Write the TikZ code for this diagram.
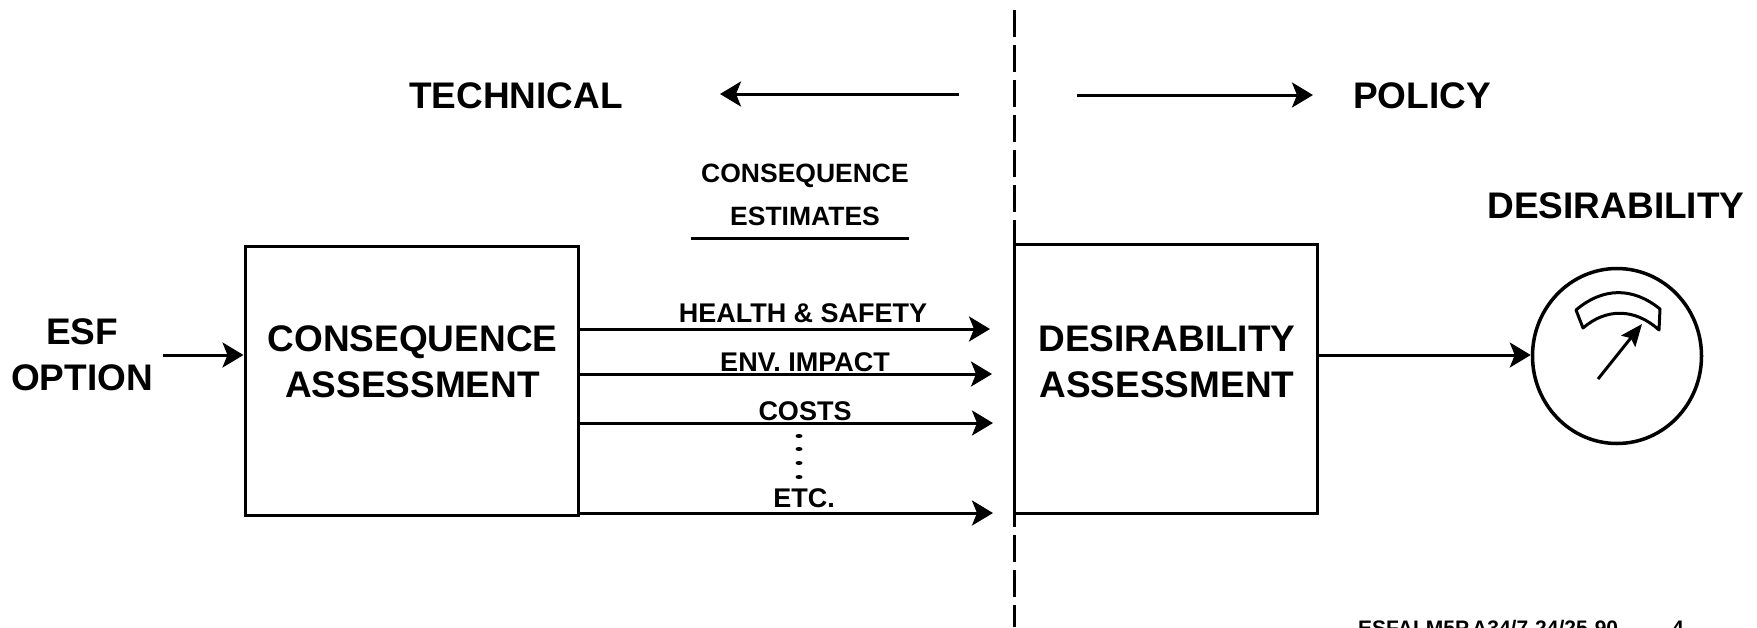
\documentclass[tikz,border=0pt]{standalone}
\usepackage{fontspec}
\setmainfont{Liberation Sans}
\usetikzlibrary{arrows.meta}
\usetikzlibrary{shapes.geometric}
\tikzset{my arrow/.style={-{Stealth[length=21pt, width=25pt, inset=5pt]}, line width=3pt, black}}
\tikzset{my line/.style={line width=3pt, black}}
\tikzstyle{process} = [rectangle, draw=black, line width=3pt, inner sep=0pt, text centered, align=center, font=\bigfont]
\tikzstyle{bigtext} = [inner sep=0pt, text centered, align=center, font=\bigfont]
\tikzstyle{smalltext} = [inner sep=0pt, text centered, align=center, font=\smallfont]
\newcommand{\bigfont}{\bfseries\fontsize{37}{45.5}\selectfont}
\newcommand{\smallfont}{\bfseries\fontsize{27}{45}\selectfont}

\begin{document}
\begin{tikzpicture}[x=1pt, y=-1pt]
  \useasboundingbox (0,0) rectangle (1757,627);
  \node [process, minimum width=333pt, minimum height=269pt] (conseq) at (411.5,380.5) {};
  \node [process, minimum width=303pt, minimum height=269pt] (desir) at (1165.5,378.5) {};
  \node [bigtext] (conseqtext) at (412.5,362) {CONSEQUENCE\\ASSESSMENT};
  \node [bigtext] (desirtext) at (1167,362) {DESIRABILITY\\ASSESSMENT};
  \node [bigtext] (option) at (82,355) {ESF\\OPTION};
  \node [bigtext] (technical) at (516,95.5) {TECHNICAL};
  \node [bigtext] (policy) at (1422,96) {POLICY};
  \node [bigtext] (desirability) at (1616,206) {DESIRABILITY};
  \node [smalltext, font=\bfseries\fontsize{26.5}{43}\selectfont] (estimates) at (805,195) {CONSEQUENCE\\ESTIMATES};
  \node [smalltext] (health) at (803,313) {HEALTH \& SAFETY};
  \node [smalltext] (env) at (805,362.5) {ENV. IMPACT};
  \node [smalltext] (costs) at (805,411) {COSTS};
  \node [smalltext] (etc) at (804,498) {ETC.};
  \node [anchor=base west, inner sep=0pt, font=\bfseries\fontsize{21}{24}\selectfont] (ref) at (1358,635) {ESFALM5P.A34/7-24/25-90};
  \node [anchor=base west, inner sep=0pt, font=\bfseries\fontsize{21}{24}\selectfont] (page) at (1672,635) {4};
  \node [ellipse, draw=black, line width=3.5pt, minimum width=169pt, minimum height=175pt, inner sep=0pt] (dial) at (1617,356) {};

  \coordinate (divtop) at (1014,10);
  \coordinate (divbot) at (1014,627);
  \draw [my line, dash pattern=on 27pt off 8pt] (divtop) -- (divbot);

  \coordinate (leftstart) at (959,94);
  \coordinate (lefttip) at (720,94);
  \coordinate (rightstart) at (1077,95);
  \coordinate (righttip) at (1313,95);
  \draw [my arrow] (leftstart) -- (lefttip);
  \draw [my arrow] (rightstart) -- (righttip);

  \coordinate (ruleleft) at (691,238);
  \coordinate (ruleright) at (909,238);
  \draw [my line] (ruleleft) -- (ruleright);

  \coordinate (optstart) at (163,355);
  \draw [my arrow] (optstart) -- (conseq.west |- optstart);

  \coordinate (healthtip) at (990,329);
  \coordinate (envtip) at (992,374);
  \coordinate (coststip) at (993,423);
  \coordinate (etctip) at (993,513);
  \draw [my arrow] (conseq.east |- healthtip) -- (healthtip);
  \draw [my arrow] (conseq.east |- envtip) -- (envtip);
  \draw [my arrow] (conseq.east |- coststip) -- (coststip);
  \draw [my arrow] (conseq.east |- etctip) -- (etctip);
  \foreach \y in {436,449,463,477}
    \fill (799,\y) ellipse (3.5pt and 2pt);

  \coordinate (desirout) at (1318,355);
  \draw [my arrow] (desirout) -- (dial.west |- desirout);

  \draw [my line, line join=round] (1576,310) .. controls (1603,287) and (1633,287) .. (1660,309) -- (1659,330) .. controls (1635,308) and (1606,308) .. (1583,328) -- cycle;
  \coordinate (needlestart) at (1598,379);
  \coordinate (needletip) at (1642,324);
  \draw [line width=3pt, -{Stealth[length=22pt, width=18pt, inset=4pt]}] (needlestart) -- (needletip);
\end{tikzpicture}
\end{document}
